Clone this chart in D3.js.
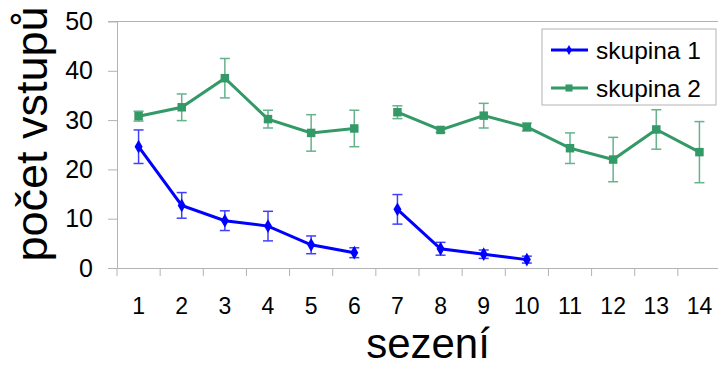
<!DOCTYPE html>
<head><meta charset="utf-8"/></head>
<style>
body{ margin:0; background:#fff; }
svg{ font-family: Arial, "Liberation Sans", sans-serif; }
.axis path, .axis line{ stroke:#b3b3b3; }
.axis text{ font-family: Arial, "Liberation Sans", sans-serif; fill:#000; }
</style>
<script src="https://d3js.org/d3.v7.min.js"></script>
<body>
<div id="chart"></div>
</body>
<script>

// sessions 1..14, null = no value
var sessions = [1,2,3,4,5,6,7,8,9,10,11,12,13,14];
var group1 = [24.6, 12.7, 9.6, 8.5, 4.7, 3.1, 11.9, 3.9, 2.8, 1.7, null, null, null, null];
var group1Err = [3.4, 2.6, 2.0, 3.0, 1.8, 1.0, 3.0, 1.3, 0.85, 0.7, null, null, null, null];
var group2 = [30.8, 32.6, 38.5, 30.2, 27.4, 28.3, 31.6, 28.0, 30.9, 28.6, 24.3, 22.0, 28.1, 23.5];
var group2Err = [1.0, 2.7, 4.0, 1.8, 3.7, 3.7, 1.3, 0.5, 2.5, 0.8, 3.1, 4.5, 4.0, 6.2];
var breakBefore = [7]; // the lines are not joined between 6 and 7
var yTicks = [0, 10, 20, 30, 40, 50];
var seriesNames = ["skupina 1", "skupina 2"];

var width = 718, height = 367;
var margin = {top: 21.5, left: 117, right: -3, bottom: 99};

var svg = d3.select("#chart").append("svg")
    .attr("width", width)
    .attr("height", height);

var x = d3.scaleBand()
    .domain(sessions)
    .range([margin.left, width - margin.right]);

var y = d3.scaleLinear()
    .domain([0, 50])
    .range([height - margin.bottom, margin.top]);

// top border of the plot area
svg.append("line")
    .attr("x1", margin.left - 9).attr("x2", width)
    .attr("y1", y(50)).attr("y2", y(50))
    .style("stroke", "#b3b3b3");

// y axis
var yAxis = svg.append("g")
    .attr("class", "axis")
    .attr("transform", "translate(" + margin.left + ",0)")
    .call(d3.axisLeft(y).tickValues(yTicks).tickSize(9).tickPadding(15).tickSizeOuter(0));
yAxis.selectAll("text").style("font-size", "25px");

// x axis, ticks between categories
var xAxis = svg.append("g")
    .attr("class", "axis")
    .attr("transform", "translate(0," + y(0) + ")")
    .call(d3.axisBottom(x).tickSize(0).tickPadding(30));
xAxis.selectAll("text").style("font-size", "23px");
xAxis.selectAll(".sep")
    .data(sessions)
    .enter().append("line")
    .attr("class", "sep")
    .attr("x1", function(d){ return x(d); })
    .attr("x2", function(d){ return x(d); })
    .attr("y1", 0).attr("y2", 8)
    .style("stroke", "#b3b3b3");

// axis titles
svg.append("text")
    .attr("x", 428).attr("y", 358)
    .attr("text-anchor", "middle")
    .style("font-size", "42px")
    .text("sezení");

svg.append("text")
    .attr("transform", "translate(47,134) rotate(-90)")
    .attr("text-anchor", "middle")
    .style("font-size", "45px")
    .text("počet vstupů");

var cx = function(i){ return x(sessions[i]) + x.bandwidth() / 2; };

function drawSeries(vals, errs, color, shape, size) {
    var pts = vals.map(function(v, i){ return {i: i, v: v, e: errs[i]}; })
        .filter(function(d){ return d.v != null; });

    var line = d3.line()
        .x(function(d){ return cx(d.i); })
        .y(function(d){ return y(d.v); });

    // split into runs at the breaks
    var runs = [[]];
    pts.forEach(function(d){
        if (breakBefore.indexOf(sessions[d.i]) >= 0 && runs[runs.length - 1].length) runs.push([]);
        runs[runs.length - 1].push(d);
    });

    svg.append("g").selectAll("path")
        .data(runs)
        .enter().append("path")
        .attr("d", line)
        .style("fill", "none")
        .style("stroke", color)
        .style("stroke-width", 3);

    var eb = svg.append("g")
        .style("stroke", color)
        .style("stroke-width", 1.5)
        .style("opacity", 0.75);
    pts.forEach(function(d){
        var xx = cx(d.i);
        eb.append("line").attr("x1", xx).attr("x2", xx)
            .attr("y1", y(d.v + d.e)).attr("y2", y(d.v - d.e));
        [d.v + d.e, d.v - d.e].forEach(function(t){
            eb.append("line").attr("x1", xx - 5).attr("x2", xx + 5)
                .attr("y1", y(t)).attr("y2", y(t));
        });
    });

    svg.append("g").selectAll("path")
        .data(pts)
        .enter().append("path")
        .attr("d", d3.symbol().type(shape).size(size))
        .attr("transform", function(d){ return "translate(" + cx(d.i) + "," + y(d.v) + ")"; })
        .style("fill", color);
}

drawSeries(group2, group2Err, "#339966", d3.symbolSquare, 72);
drawSeries(group1, group1Err, "#0000ff", d3.symbolDiamond, 55);

// legend
var legend = svg.append("g");
legend.append("rect")
    .attr("x", 542).attr("y", 29)
    .attr("width", 174).attr("height", 76)
    .style("fill", "#fff")
    .style("stroke", "#b3b3b3");

var legColors = ["#0000ff", "#339966"];
var legShapes = [d3.symbolDiamond, d3.symbolSquare];
var legSizes = [30, 50];
seriesNames.forEach(function(name, i){
    var ly = 50 + i * 38;
    legend.append("line")
        .attr("x1", 551).attr("x2", 588)
        .attr("y1", ly).attr("y2", ly)
        .style("stroke", legColors[i])
        .style("stroke-width", 3);
    legend.append("path")
        .attr("d", d3.symbol().type(legShapes[i]).size(legSizes[i]))
        .attr("transform", "translate(569," + ly + ")")
        .style("fill", legColors[i]);
    legend.append("text")
        .attr("x", 596).attr("y", ly + 9)
        .style("font-size", "24.5px")
        .text(name);
});

</script>
